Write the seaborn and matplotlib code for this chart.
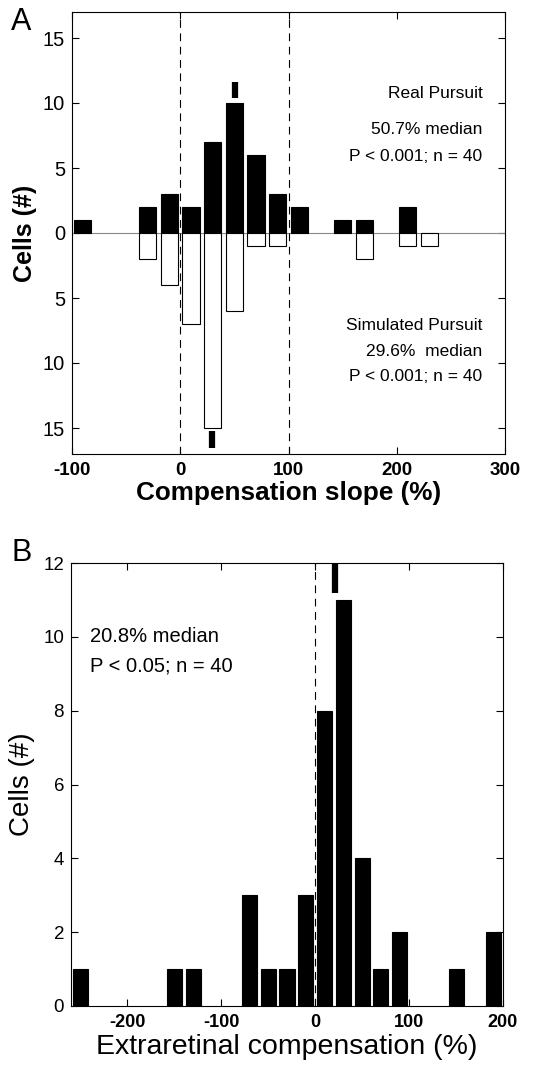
import numpy as np
import pandas as pd
import matplotlib
matplotlib.use("Agg")
import matplotlib.pyplot as plt
from matplotlib.ticker import FuncFormatter
import seaborn as sns

# ---- Data ----
# Panel A: compensation slope histograms (bin centers, %)
real_bins = [-90, -30, -10, 10, 30, 50, 70, 90, 110, 150, 170, 210]
real_counts = [1, 2, 3, 2, 7, 10, 6, 3, 2, 1, 1, 2]
sim_bins = [-30, -10, 10, 30, 50, 70, 90, 170, 210, 230]
sim_counts = [2, 4, 7, 15, 6, 1, 1, 2, 1, 1]
real_median = 50.7
sim_median = 29.6
a_xticks = [-100, 0, 100, 200, 300]
a_yticks = [-15, -10, -5, 0, 5, 10, 15]
a_ref_lines = [0, 100]

# Panel B: extraretinal compensation histogram
b_bins = [-250, -150, -130, -70, -50, -30, -10, 10, 30, 50, 70, 90, 150, 190]
b_counts = [1, 1, 1, 3, 1, 1, 3, 8, 11, 4, 1, 2, 1, 2]
b_median = 20.8
b_xticks = [-200, -100, 0, 100, 200]
b_yticks = [0, 2, 4, 6, 8, 10, 12]

sns.set_style("ticks")
plt.rcParams['font.family'] = ['Liberation Sans', 'DejaVu Sans']
plt.rcParams['axes.linewidth'] = 0.8
plt.rcParams['axes.unicode_minus'] = False
for k in ['text.color', 'axes.labelcolor', 'xtick.color', 'ytick.color', 'axes.edgecolor']:
    plt.rcParams[k] = 'black'

fig = plt.figure(figsize=(5.38, 10.68), dpi=100)
W, H = 538.0, 1068.0

def axrect(l, t, r, b):
    return [l / W, 1 - b / H, (r - l) / W, (b - t) / H]

# ---------- Panel A ----------
axA = fig.add_axes(axrect(72, 12, 505, 454))
dfr = pd.DataFrame({"x": real_bins, "y": real_counts})
dfs = pd.DataFrame({"x": sim_bins, "y": [-c for c in sim_counts]})
axA.axhline(0, color="#888888", lw=0.8, zorder=1)
sns.barplot(data=dfr, x="x", y="y", native_scale=True, color="black",
            edgecolor="black", linewidth=0.8, width=0.8, errorbar=None,
            saturation=1, ax=axA, zorder=2)
sns.barplot(data=dfs, x="x", y="y", native_scale=True, color="white",
            edgecolor="black", linewidth=0.8, width=0.8, errorbar=None,
            saturation=1, ax=axA, zorder=2)
for xv in a_ref_lines:
    axA.axvline(xv, color="black", lw=0.8, ls=(0, (7, 5)), zorder=3)
axA.vlines(real_median, 10.4, 11.6, color="black", lw=4.5, zorder=4)
axA.vlines(sim_median, -16.5, -15.2, color="black", lw=4.5, zorder=4)
axA.set_xlim(-100, 300)
axA.set_ylim(-17, 17)
axA.set_xticks(a_xticks)
axA.set_yticks(a_yticks)
axA.yaxis.set_major_formatter(FuncFormatter(lambda v, p: f"{abs(int(v))}"))
axA.tick_params(direction="in", top=True, right=True, length=5, width=0.8,
                pad=5)
axA.tick_params(axis="y", labelsize=14.5)
axA.tick_params(axis="x", labelsize=13.5, pad=6)
for lab in axA.get_xticklabels():
    lab.set_fontweight("bold")
axA.set_xlabel("Compensation slope (%)", fontsize=18.8, fontweight="bold", labelpad=1)
axA.set_ylabel("Cells (#)", fontsize=18, fontweight="bold", labelpad=4)
for s in axA.spines.values():
    s.set_visible(True)
    s.set_color("black")
fsA = 12.5
axA.text(279, 10.7, "Real Pursuit", ha="right", va="center", fontsize=fsA)
axA.text(279, 8.0, "50.7% median", ha="right", va="center", fontsize=fsA)
axA.text(279, 5.9, "P < 0.001; n = 40", ha="right", va="center", fontsize=fsA)
axA.text(279, -7.1, "Simulated Pursuit", ha="right", va="center", fontsize=fsA)
axA.text(279, -9.1, "29.6%  median", ha="right", va="center", fontsize=fsA)
axA.text(279, -11.05, "P < 0.001; n = 40", ha="right", va="center", fontsize=fsA)
fig.text(11 / W, 1 - 7 / H, "A", ha="left", va="top", fontsize=22)

# ---------- Panel B ----------
axB = fig.add_axes(axrect(71, 563, 503, 1006))
dfb = pd.DataFrame({"x": b_bins, "y": b_counts})
sns.barplot(data=dfb, x="x", y="y", native_scale=True, color="black",
            edgecolor="black", linewidth=0.8, width=0.8, errorbar=None,
            saturation=1, ax=axB, zorder=2)
axB.axvline(0, color="black", lw=0.8, ls=(0, (7, 5)), zorder=3)
axB.vlines(b_median, 11.2, 12.3, color="black", lw=4.5, zorder=4)
axB.set_xlim(-260, 200)
axB.set_ylim(0, 12)
axB.set_xticks(b_xticks)
axB.set_yticks(b_yticks)
axB.tick_params(direction="in", top=True, right=True, length=5, width=0.8,
                pad=5)
axB.tick_params(axis="y", labelsize=13.5)
axB.tick_params(axis="x", labelsize=13, pad=6)
for lab in axB.get_xticklabels():
    lab.set_fontweight("bold")
axB.set_xlabel("Extraretinal compensation (%)", fontsize=20.5, labelpad=2)
axB.set_ylabel("Cells (#)", fontsize=20, labelpad=6)
for s in axB.spines.values():
    s.set_visible(True)
    s.set_color("black")
fsB = 14.5
axB.text(-240, 10, "20.8% median", ha="left", va="center", fontsize=fsB)
axB.text(-240, 9.2, "P < 0.05; n = 40", ha="left", va="center", fontsize=fsB)
fig.text(11 / W, 1 - 538 / H, "B", ha="left", va="top", fontsize=22)

fig.savefig("out.png", dpi=100)
